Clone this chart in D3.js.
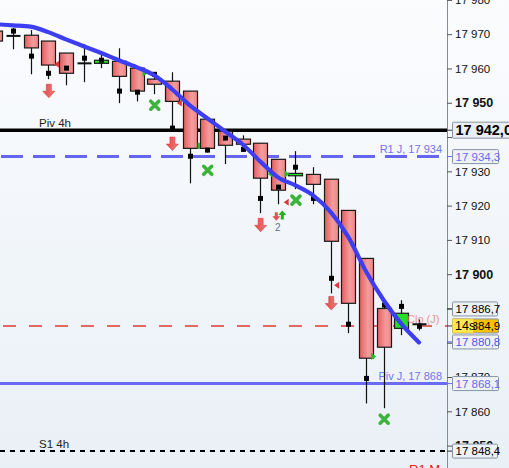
<!DOCTYPE html>
<html><head><meta charset="utf-8">
<script src="https://cdn.jsdelivr.net/npm/d3@7"></script>
<style>html,body{margin:0;padding:0;overflow:hidden;background:#fff}svg{display:block}</style>
</head><body><div id="chart"></div>
<script>
// ---- data ----
const candleIndex = d3.range(25);
const opens  = [17970.9,17969.6,17969.7,17968.0,17964.5,17961.6,17961.5,17962.1,17960.1,17956.9,17956.3,17953.4,17945.2,17941.7,17939.4,17938.2,17933.5,17928.7,17929.1,17927.7,17918.6,17904.6,17890.0,17884.2,17885.6];
const closes = [17968.0,17969.4,17966.0,17961.0,17958.6,17961.4,17962.4,17957.7,17953.4,17955.4,17950.4,17936.7,17936.7,17937.6,17937.9,17928.0,17924.5,17929.4,17926.2,17909.6,17891.5,17875.5,17878.7,17888.6,17885.2];
const highs  = [17972.0,17971.8,17971.2,17968.0,17964.5,17967.1,17964.7,17965.9,17960.1,17958.6,17958.9,17953.4,17945.2,17942.3,17940.5,17938.2,17933.5,17935.9,17931.2,17927.7,17918.6,17904.6,17892.1,17892.4,17886.8];
const lows   = [17966.5,17965.6,17958.3,17956.9,17955.1,17956.0,17960.1,17949.9,17950.4,17952.5,17942.6,17926.5,17935.5,17932.1,17935.8,17917.8,17920.4,17924.8,17920.4,17894.4,17882.8,17862.3,17860.9,17882.2,17883.6];
const squares= [null,17970.9,17963.6,17958.6,17960.1,17963.0,17962.4,17953.4,17953.1,17958.3,17942.6,17934.4,17936.2,17939.7,17936.4,17922.1,17925.4,17931.2,17922.1,17898.8,17885.4,17869.6,17891.0,17890.6,17884.8];
const maValues = [17972.9,17972.6,17972.2,17970.6,17968.5,17966.5,17964.5,17962.4,17960.4,17958.0,17954.0,17949.3,17945.5,17941.7,17937.9,17932.9,17928.3,17925.9,17923.0,17918.1,17910.8,17900.8,17892.4,17885.5,17880.1];

const tickValues = [17850,17860,17870,17880,17890,17900,17910,17920,17930,17940,17950,17960,17970,17980];
const hiddenTicks = [17880,17890,17940];

const levelNames  = ["Piv 4h","R1 J, 17 934","Clo (J)","Piv J, 17 868","S1 4h"];
const levelValues = [17942.0,17934.3,17884.9,17868.1,17848.4];

const priceBoxTexts  = ["17 942,0","17 934,3","17 886,7","17 884,9","17 880,8","17 868,1","17 848,4"];
const priceBoxValues = [17942.0,17934.3,17886.7,17884.9,17880.8,17868.1,17848.4];
const currentPrice = 17884.9;

const bigDownArrows = [[3,17955.4],[10,17940.0],[15,17916.3],[19,17893.5]];
const greenCrosses  = [[9,17949.3],[12,17930.3],[17,17921.6],[22,17857.7]];
const redTriangles  = [[3,17961.2,0.55],[10,17949.9,0.5],[17,17921.0,-0.55],[19,17896.8,0.4]];
const greenTriangles= [[8,17958.6,0.5],[21,17876.0,0.45],[16,17929.2,-0.45],[16,17929.2,0.55]];

// ---- layout ----
const W = 509, H = 468, axisX = 447;
const x = d3.scaleLinear().domain([0,24]).range([-4.6, 419]);
const y = d3.scaleLinear().domain([17850,17970]).range([445.6, 34.2]);
const fmt = v => d3.format(",")(v).replace(/,/g," ");
const FONT = "'Liberation Sans', Arial, sans-serif";

const svg = d3.select("#chart").append("svg").attr("width",W).attr("height",H)
  .style("font-family",FONT);
const defs = svg.append("defs");
const bg = defs.append("linearGradient").attr("id","bg").attr("x1",0).attr("y1",0).attr("x2",0).attr("y2",1);
bg.append("stop").attr("offset",0).attr("stop-color","#fbfcfe");
bg.append("stop").attr("offset",1).attr("stop-color","#e9f0f6");
const rg = defs.append("linearGradient").attr("id","redc").attr("x1",0).attr("y1",0).attr("x2",1).attr("y2",0);
rg.append("stop").attr("offset",0).attr("stop-color","#e25e5e");
rg.append("stop").attr("offset",0.6).attr("stop-color","#f39d9d");
rg.append("stop").attr("offset",1).attr("stop-color","#ee8585");
const ag = defs.append("linearGradient").attr("id","arr").attr("x1",0).attr("y1",0).attr("x2",1).attr("y2",0);
ag.append("stop").attr("offset",0).attr("stop-color","#e24848");
ag.append("stop").attr("offset",1).attr("stop-color","#f27a7a");

svg.append("rect").attr("width",W).attr("height",H).attr("fill","url(#bg)");

const clip = defs.append("clipPath").attr("id","plot");
clip.append("rect").attr("x",0).attr("y",0).attr("width",axisX).attr("height",H);
const plot = svg.append("g").attr("clip-path","url(#plot)");

// ---- horizontal levels ----
const levelStyles = [
  {c:"#000",w:3.5,d:null},
  {c:"#6565f0",w:3,d:"22,10"},
  {c:"#e06868",w:2,d:"13,13"},
  {c:"#6a6af2",w:3,d:null},
  {c:"#000",w:2,d:"5,5"}
];
levelValues.forEach((v,i)=>{
  const s = levelStyles[i];
  plot.append("line").attr("x1", i==2?3:(i==1?1:0)).attr("x2",axisX).attr("y1",y(v)).attr("y2",y(v))
    .attr("stroke",s.c).attr("stroke-width",s.w).attr("stroke-dasharray",s.d);
});
plot.append("text").attr("x",39).attr("y",y(levelValues[0])-3).attr("font-size",11.5).attr("fill","#222").text(levelNames[0]);
plot.append("text").attr("x",442).attr("y",y(levelValues[1])-3.5).attr("font-size",11).attr("fill","#7474ee").attr("text-anchor","end").text(levelNames[1]);
plot.append("text").attr("x",442).attr("y",y(levelValues[3])-3.5).attr("font-size",11).attr("fill","#7474ee").attr("text-anchor","end").text(levelNames[3]);
plot.append("text").attr("x",39).attr("y",y(levelValues[4])-3.5).attr("font-size",11.5).attr("fill","#222").text(levelNames[4]);

// ---- candles ----
const cw = 14;
const cg = plot.append("g");
candleIndex.forEach(i=>{
  const o=opens[i], c=closes[i], cx=Math.round(x(i))+0.5;
  cg.append("line").attr("x1",cx).attr("x2",cx).attr("y1",y(highs[i])).attr("y2",y(lows[i])).attr("stroke","#111").attr("stroke-width",1.2);
  const top=y(Math.max(o,c)), bot=y(Math.min(o,c));
  if (bot-top < 1.5) {
    cg.append("line").attr("x1",cx-cw/2).attr("x2",cx+cw/2).attr("y1",(top+bot)/2).attr("y2",(top+bot)/2).attr("stroke","#111").attr("stroke-width",2);
  } else {
    cg.append("rect").attr("x",cx-cw/2).attr("y",top).attr("width",cw).attr("height",bot-top)
      .attr("fill", c>o ? "#22e022" : "url(#redc)").attr("stroke","#1a1a1a").attr("stroke-width",1.2);
  }
});
cg.selectAll("rect.sq").data(candleIndex.filter(i=>squares[i]!=null)).join("rect")
  .attr("x",i=>Math.round(x(i))+0.5-2.5).attr("y",i=>y(squares[i])-2.5).attr("width",5).attr("height",5).attr("fill","#000");

// ---- signals ----
const sg = plot.append("g");
bigDownArrows.forEach(([i,v])=>{
  const cx=x(i)+0.5, t=y(v);
  sg.append("path").attr("d",`M${cx-2.5},${t} h5 v7 h3.5 l-6,6.5 l-6,-6.5 h3.5 z`).attr("fill","url(#arr)").attr("stroke","#d94040").attr("stroke-width",0.6);
});
{
  const cx=x(16)-1.5, t=y(17918.1);
  sg.append("path").attr("d",`M${cx-1.5},${t} h3 v4 h2.5 l-4,4.5 l-4,-4.5 h2.5 z`).attr("fill","#e55050");
  const ux=x(16)+4.5, ut=y(17918.6);
  sg.append("path").attr("d",`M${ux},${ut} l4,4.5 h-2.5 v4.5 h-3 v-4.5 h-2.5 z`).attr("fill","#22b022");
  sg.append("text").attr("x",x(16)).attr("y",ut+21).attr("font-size",10).attr("fill","#5a6e9a").attr("text-anchor","middle").text("2");
}
greenCrosses.forEach(([i,v])=>{
  const cx=x(i)+0.5, cy=y(v), r=4;
  sg.append("path").attr("d",`M${cx-r},${cy-r} L${cx+r},${cy+r} M${cx+r},${cy-r} L${cx-r},${cy+r}`)
    .attr("stroke","#3cb43c").attr("stroke-width",3.6).attr("stroke-linecap","round");
});
redTriangles.forEach(([i,v,k])=>{
  const cx=x(i)+k*17.65*0.9, cy=y(v);
  sg.append("path").attr("d",`M${cx-3},${cy} l5,-3.5 v7 z`).attr("fill","#dd3838");
});
greenTriangles.forEach(([i,v,k])=>{
  const cx=x(i)+k*17.65*0.9, cy=y(v);
  const d = k>0 ? `M${cx+3},${cy} l-5,-3.5 v7 z` : `M${cx-3},${cy} l5,-3.5 v7 z`;
  sg.append("path").attr("d",d).attr("fill","#22c022");
});
sg.append("rect").attr("x",x(11)+8).attr("y",y(17938.3)).attr("width",2.5).attr("height",6).attr("fill","#22c022");

// ---- moving average ----
plot.append("path").datum(candleIndex)
  .attr("d", d3.line().x(i=>x(i)).y(i=>y(maValues[i])).curve(d3.curveMonotoneX))
  .attr("fill","none").attr("stroke","#3d3df2").attr("stroke-width",4.2).attr("stroke-linecap","round");

plot.append("text").attr("x",407).attr("y",y(currentPrice)-2.5).attr("font-size",11).attr("fill","#e88888").attr("opacity",0.85).text(levelNames[2]);

// ---- right axis ----
const axis = d3.axisRight(y).tickValues(tickValues).tickSize(5).tickPadding(3)
  .tickFormat(d => hiddenTicks.includes(d) ? "" : fmt(d));
const ag2 = svg.append("g").attr("transform",`translate(${axisX},0)`).call(axis);
ag2.select(".domain").attr("stroke","#7f8c99").attr("d",`M0.5,0V${H}`);
ag2.selectAll(".tick line").attr("stroke","#555");
ag2.selectAll(".tick text").attr("font-family",FONT).attr("fill","#111")
  .attr("font-size",d=>d%50===0?12.5:11.5)
  .attr("font-weight",d=>d%50===0?"bold":"normal");

// ---- price boxes (stacked so they do not overlap) ----
const boxStyles = [
  {fill:"#e8eef3",txt:"#000",bold:true,w:60,h:16,fs:14.5},
  {fill:"#eef2f7",txt:"#6a6aee",bold:false,w:46,h:14,fs:11.5},
  {fill:"#eef2f7",txt:"#000",bold:false,w:45,h:14,fs:11.5},
  {fill:"#f6c200",txt:"#000",bold:false,w:46,h:14,fs:11.5},
  {fill:"#eef2f7",txt:"#5555ee",bold:false,w:46,h:14,fs:11.5},
  {fill:"#eef2f7",txt:"#6a6aee",bold:false,w:46,h:14,fs:11.5},
  {fill:"#eef2f7",txt:"#000",bold:false,w:45,h:14,fs:11.5}
];
const gap = 17;
const cur = priceBoxValues.indexOf(currentPrice);
const boxY = priceBoxValues.map(v=>y(v));
for (let i=cur-1;i>=0;i--) if (boxY[i] > boxY[i+1]-gap) boxY[i] = boxY[i+1]-gap;
for (let i=cur+1;i<boxY.length;i++) if (boxY[i] < boxY[i-1]+gap-1) boxY[i] = boxY[i-1]+gap-1;

const bx = svg.append("g");
priceBoxValues.forEach((v,i)=>{
  const s=boxStyles[i], cy=boxY[i];
  bx.append("line").attr("x1",axisX).attr("x2",axisX+5).attr("y1",cy).attr("y2",cy).attr("stroke",s.txt==="#000"?"#333":s.txt);
  bx.append("rect").attr("x",452.5).attr("y",cy-s.h/2).attr("width",s.w).attr("height",s.h)
    .attr("fill",s.fill).attr("stroke","#8595a5").attr("stroke-width",1).attr("rx",1);
  bx.append("text").attr("x",455.5).attr("y",cy+s.fs*0.36).attr("font-size",s.fs)
    .attr("font-weight",s.bold?"bold":"normal").attr("fill",s.txt).text(priceBoxTexts[i]);
  if (i===cur) {
    bx.append("rect").attr("x",452.5).attr("y",cy-s.h/2).attr("width",21).attr("height",s.h)
      .attr("fill","#ffe94e").attr("stroke","#e0c040").attr("stroke-width",0.6);
    bx.append("text").attr("x",455).attr("y",cy+4.5).attr("font-size",12.5).attr("fill","#000").text("14s");
  }
});

svg.append("text").attr("x",409).attr("y",474).attr("font-size",13).attr("fill","#e02020").text("R1 M");
</script></body></html>
